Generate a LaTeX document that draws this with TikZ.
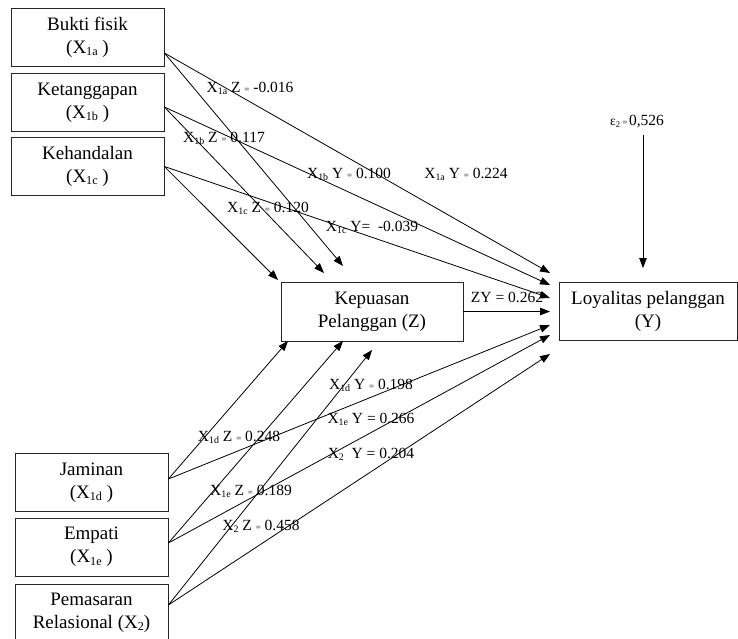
\documentclass[tikz,border=0pt]{standalone}
\usepackage{fontspec}
\setmainfont{Liberation Serif}
\usepackage{tikz}
\usetikzlibrary{arrows.meta}
\newcommand{\sub}[1]{\raisebox{-0.12em}{\scalebox{0.64}{#1}}}
\newcommand{\seq}{{\fontsize{9pt}{9pt}\selectfont =}}

\begin{document}
\begin{tikzpicture}[x=1pt,y=-1pt,
  box/.style={draw=black!85,line width=0.8pt,inner sep=0pt,align=center,
    font=\fontsize{19}{23}\selectfont},
  lft/.style={box,minimum width=153pt,minimum height=58pt},
  lbl/.style={font=\fontsize{15.5}{15.5}\selectfont,inner sep=0pt},
  ar/.style={-{Triangle[length=10pt,width=7.5pt]},line width=0.8pt},
]
\useasboundingbox (0,0) rectangle (738,639);

% left, service quality
\node[lft] (b1) at (87.5,37) {Bukti fisik\\(X\sub{1a} )};
\node[lft] (b2) at (87.5,102.5) {Ketanggapan\\(X\sub{1b} )};
\node[lft] (b3) at (87.5,166.5) {Kehandalan\\(X\sub{1c} )};
\node[lft] (b4) at (91.5,482.5) {Jaminan\\(X\sub{1d} )};
\node[lft] (b5) at (91.5,547) {Empati\\(X\sub{1e} )};
\node[lft] (b6) at (91.5,613) {Pemasaran\\Relasional (X\sub{2})};

% mediator and outcome
\node[box,minimum width=182pt,minimum height=59pt] (z) at (372,311.5) {Kepuasan\\Pelanggan (Z)};
\node[box,minimum width=178pt,minimum height=58pt] (y) at (648,311) {Loyalitas pelanggan\\(Y)};

% arrow ends
\coordinate (za) at (343,266); \coordinate (zb) at (324,273); \coordinate (zc) at (278,280);
\coordinate (zd) at (288,341); \coordinate (ze) at (343,341); \coordinate (zf) at (372,350);
\coordinate (ya) at (550,273); \coordinate (yb) at (550,285); \coordinate (yc) at (550,298);
\coordinate (yz) at (550,311.5); \coordinate (yd) at (550,325); \coordinate (ye) at (550,335);
\coordinate (yf) at (550,354); \coordinate (yt) at (643,268);

% paths into Z
\draw[ar] ([yshift=-16pt]b1.east) -- (za);
\draw[ar] ([yshift=-4.5pt]b2.east) -- (zb);
\draw[ar] (b3.east) -- (zc);
\draw[ar] ([yshift=3.5pt]b4.east) -- (zd);
\draw[ar] ([yshift=4pt]b5.east) -- (ze);
\draw[ar] ([yshift=8pt]b6.east) -- (zf);

% paths into Y
\draw[ar] ([yshift=-16pt]b1.east) -- (ya);
\draw[ar] ([yshift=-4.5pt]b2.east) -- (yb);
\draw[ar] (b3.east) -- (yc);
\draw[ar] (z.east) -- (yz);
\draw[ar] ([yshift=3.5pt]b4.east) -- (yd);
\draw[ar] ([yshift=4pt]b5.east) -- (ye);
\draw[ar] ([yshift=8pt]b6.east) -- (yf);

% error term
\node[inner sep=0pt] (eps) at (637,122) {{\fontsize{13.5}{13}\selectfont ε\sub{2}\,\seq}\,{\fontsize{15.5}{15}\selectfont 0,526}};
\draw[ar,shorten <=6pt] (eps.south -| yt) -- (yt);

% coefficients
\node[lbl] (l1) at (250,88) {X\sub{1a} Z \seq\ -0.016};
\node[lbl] (l2) at (224,138) {X\sub{1b} Z \seq\ 0.117};
\node[lbl] (l3) at (349,174) {X\sub{1b} Y \seq\ 0.100};
\node[lbl] (l4) at (466,174) {X\sub{1a} Y \seq\ 0.224};
\node[lbl] (l5) at (268,208) {X\sub{1c} Z \seq\ 0.120};
\node[lbl] (l6) at (372,227) {X\sub{1c} Y=\ \ -0.039};
\node[lbl] (l7) at (507,297) {ZY = 0.262};
\node[lbl] (l8) at (371,385) {X\sub{1d} Y \seq\ 0.198};
\node[lbl] (l9) at (371,419) {X\sub{1e} Y = 0.266};
\node[lbl] (l10) at (371,454) {X\sub{2} \ Y = 0.204};
\node[lbl] (l11) at (239,437) {X\sub{1d} Z \seq\ 0.248};
\node[lbl] (l12) at (251,491) {X\sub{1e} Z \seq\ 0.189};
\node[lbl] (l13) at (261,526) {X\sub{2} Z \seq\ 0.458};
\end{tikzpicture}
\end{document}
